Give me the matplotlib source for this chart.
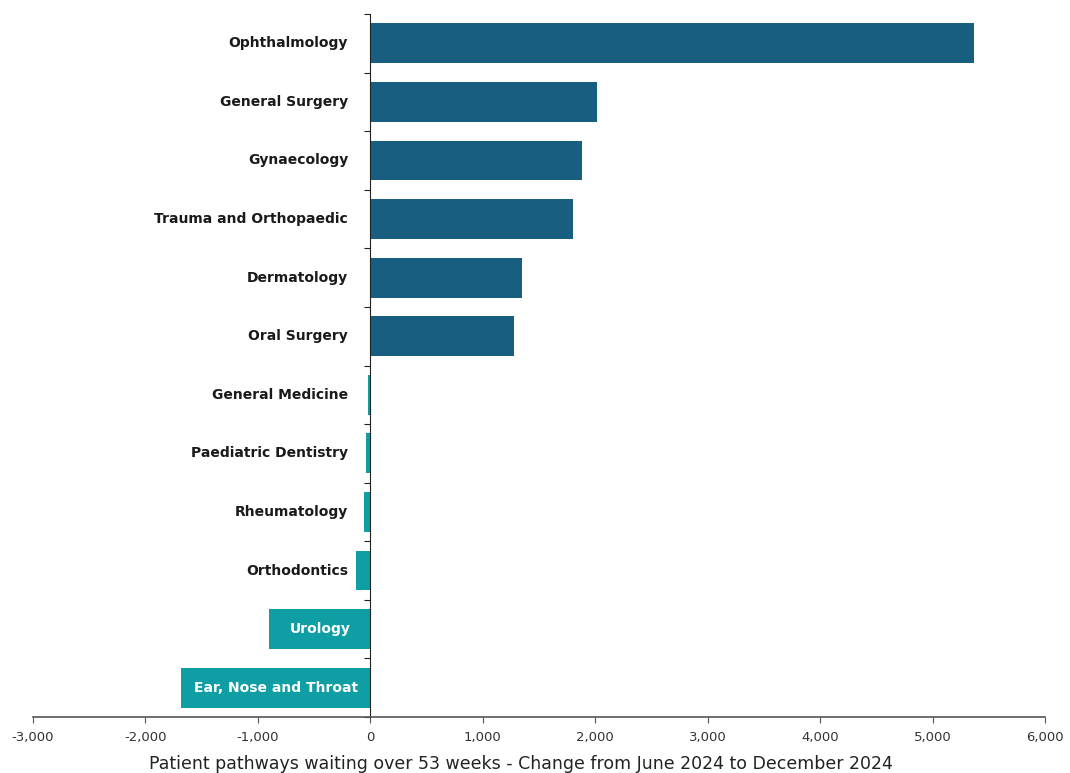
import matplotlib.pyplot as plt
from matplotlib.ticker import FuncFormatter, MultipleLocator
from matplotlib.transforms import offset_copy

specialties = [
    "Ophthalmology", "General Surgery", "Gynaecology", "Trauma and Orthopaedic",
    "Dermatology", "Oral Surgery", "General Medicine", "Paediatric Dentistry",
    "Rheumatology", "Orthodontics", "Urology", "Ear, Nose and Throat",
]
changes = [5365, 2020, 1886, 1806, 1352, 1281, -18, -36, -53, -125, -899, -1681]

dark_blue = "#175e80"
teal = "#0e9ea4"

fig = plt.figure(figsize=(10.70, 7.73), dpi=100)
ax = fig.add_axes([0.0308, 0.0724, 0.9458, 0.9095])

ypos = list(range(len(specialties)))
colors = [dark_blue if v > 0 else teal for v in changes]
ax.barh(ypos, changes, height=0.68, color=colors)

ax.set_xlim(-3000, 6000)
ax.set_ylim(len(specialties) - 0.5, -0.5)

# labels sit just left of the zero line; long negative bars get a white label centred inside
label_tr = offset_copy(ax.transData, fig=fig, x=-16, y=0, units="points")
for y, name, v in zip(ypos, specialties, changes):
    if v < -600:
        ax.text(v / 2, y, name, ha="center", va="center", fontsize=10,
                fontweight="bold", family="DejaVu Sans", color="white")
    else:
        ax.text(0, y, name, transform=label_tr, ha="right", va="center",
                fontsize=10, fontweight="bold", family="DejaVu Sans", color="#1a1a1a")

ax.spines["top"].set_visible(False)
ax.spines["right"].set_visible(False)
ax.spines["left"].set_position(("data", 0))
ax.spines["left"].set_color("#222222")
ax.spines["bottom"].set_color("#555555")
ax.spines["bottom"].set_linewidth(1.2)

ax.xaxis.set_major_locator(MultipleLocator(1000))
ax.xaxis.set_major_formatter(FuncFormatter(lambda x, p: f"{int(x):,}"))
ax.tick_params(axis="x", length=4, color="#555555", labelsize=9.5,
               labelcolor="#333333", pad=6)
ax.set_yticks([i - 0.5 for i in range(len(specialties) + 1)])
ax.set_yticklabels([])
ax.tick_params(axis="y", length=4, color="#222222")

ax.set_xlabel("Patient pathways waiting over 53 weeks - Change from June 2024 to December 2024",
              fontsize=12.5, color="#222222")
ax.xaxis.set_label_coords(0.482, -0.054)

fig.savefig("out.png", dpi=100)
